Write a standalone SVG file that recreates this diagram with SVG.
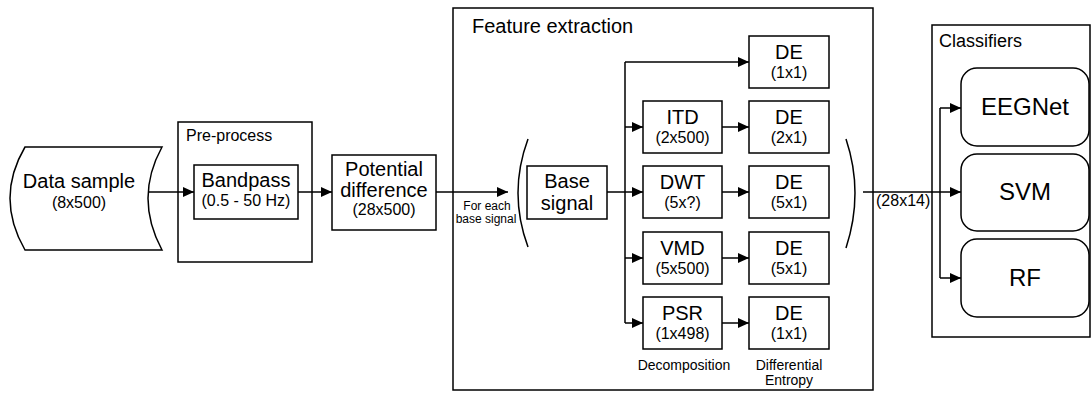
<svg xmlns="http://www.w3.org/2000/svg" width="1091" height="395" viewBox="0 0 1091 395">
<style>
text{font-family:"Liberation Sans",Arial,sans-serif;fill:#000}
.t20{font-size:20px;text-anchor:middle}
.t16{font-size:16px;text-anchor:middle}
.t24{font-size:24px;text-anchor:middle}
.lbl{font-size:16px}
.small{font-size:12px;text-anchor:middle}
.cap{font-size:14px;text-anchor:middle}
.box{fill:#fff;stroke:#000;stroke-width:1.5}
.grp{fill:none;stroke:#000;stroke-width:1.5}
.ln{fill:none;stroke:#000;stroke-width:1.5}
.ar{fill:none;stroke:#000;stroke-width:1.5;marker-end:url(#ah)}
</style>
<defs>
<marker id="ah" markerUnits="userSpaceOnUse" markerWidth="11" markerHeight="10" refX="11" refY="5" orient="auto">
<path d="M0,0 L11,5 L0,10 Z" fill="#000"/>
</marker>
</defs>
<g id="preprocess-group">
<rect class="grp" x="178" y="122" width="134" height="140"/>
<text class="lbl" x="186" y="141">Pre-process</text>
</g>
<g id="feature-group">
<rect class="grp" x="453" y="8" width="420" height="382"/>
<text x="472" y="33" style="font-size:20px">Feature extraction</text>
<path class="ln" d="M528,139 Q508,193 528,247"/>
<path class="ln" d="M846,139 Q864,193 846,248"/>
<text class="cap" x="684" y="370">Decomposition</text>
<text class="cap" x="789" y="370">Differential</text>
<text class="cap" x="789" y="385">Entropy</text>
</g>
<g id="classifiers-group">
<rect class="grp" x="932" y="25" width="158" height="312"/>
<text x="939" y="47" style="font-size:18px">Classifiers</text>
</g>
<g id="connectors">
<path class="ar" d="M143,192 H194"/>
<path class="ar" d="M298,192 H332"/>
<path class="ar" d="M436,192 H508"/>
<path class="ln" d="M607,192 H625 M625,62 V323"/>
<path class="ar" d="M625,62 H749"/>
<path class="ar" d="M625,127 H643"/>
<path class="ar" d="M625,192 H643"/>
<path class="ar" d="M625,258 H643"/>
<path class="ar" d="M625,323 H643"/>
<path class="ar" d="M722,127 H749"/>
<path class="ar" d="M722,192 H749"/>
<path class="ar" d="M722,258 H749"/>
<path class="ar" d="M722,323 H749"/>
<path class="ar" d="M863,192 H961"/>
<path class="ln" d="M940,108 V278"/>
<path class="ar" d="M940,108 H961"/>
<path class="ar" d="M940,278 H961"/>
<text class="small" x="487" y="210">For each</text>
<text class="small" x="486" y="223">base signal</text>
<text x="876" y="206" style="font-size:16px">(28x14)</text>
</g>
<g id="data-sample">
<path class="box" d="M25,147 L162,147 Q134,198 162,250 L25,250 Q-5,198 25,147 Z"/>
<text class="t20" x="79" y="188">Data sample</text>
<text class="t16" x="79" y="208">(8x500)</text>
</g>
<g id="bandpass">
<rect class="box" x="194" y="165" width="104" height="54"/>
<text class="t20" x="246" y="187">Bandpass</text>
<text class="t16" x="246" y="206">(0.5 - 50 Hz)</text>
</g>
<g id="potential-difference">
<rect class="box" x="332" y="155" width="104" height="75"/>
<text class="t20" x="384" y="176">Potential</text>
<text class="t20" x="384" y="197">difference</text>
<text class="t16" x="384" y="215">(28x500)</text>
</g>
<g id="base-signal">
<rect class="box" x="527" y="166" width="80" height="53"/>
<text class="t20" x="567" y="188">Base</text>
<text class="t20" x="567" y="210">signal</text>
</g>
<g id="itd">
<rect class="box" x="643" y="101" width="79" height="52"/>
<text class="t20" x="682.5" y="124">ITD</text>
<text class="t16" x="682.5" y="143">(2x500)</text>
</g>
<g id="dwt">
<rect class="box" x="643" y="166" width="79" height="52"/>
<text class="t20" x="682.5" y="189">DWT</text>
<text class="t16" x="682.5" y="208">(5x?)</text>
</g>
<g id="vmd">
<rect class="box" x="643" y="232" width="79" height="52"/>
<text class="t20" x="682.5" y="255">VMD</text>
<text class="t16" x="682.5" y="274">(5x500)</text>
</g>
<g id="psr">
<rect class="box" x="643" y="297" width="79" height="52"/>
<text class="t20" x="682.5" y="320">PSR</text>
<text class="t16" x="682.5" y="339">(1x498)</text>
</g>
<g id="de-1">
<rect class="box" x="749" y="36" width="80" height="52"/>
<text class="t20" x="789" y="59">DE</text>
<text class="t16" x="789" y="78">(1x1)</text>
</g>
<g id="de-2">
<rect class="box" x="749" y="101" width="80" height="52"/>
<text class="t20" x="789" y="124">DE</text>
<text class="t16" x="789" y="143">(2x1)</text>
</g>
<g id="de-3">
<rect class="box" x="749" y="166" width="80" height="52"/>
<text class="t20" x="789" y="189">DE</text>
<text class="t16" x="789" y="208">(5x1)</text>
</g>
<g id="de-4">
<rect class="box" x="749" y="232" width="80" height="52"/>
<text class="t20" x="789" y="255">DE</text>
<text class="t16" x="789" y="274">(5x1)</text>
</g>
<g id="de-5">
<rect class="box" x="749" y="297" width="80" height="52"/>
<text class="t20" x="789" y="320">DE</text>
<text class="t16" x="789" y="339">(1x1)</text>
</g>
<g id="eegnet">
<rect class="box" x="961" y="68" width="128" height="78" rx="16"/>
<text class="t24" x="1025" y="115">EEGNet</text>
</g>
<g id="svm">
<rect class="box" x="961" y="154" width="128" height="77" rx="16"/>
<text class="t24" x="1025" y="200">SVM</text>
</g>
<g id="rf">
<rect class="box" x="961" y="239" width="128" height="78" rx="16"/>
<text class="t24" x="1025" y="286">RF</text>
</g>
</svg>
